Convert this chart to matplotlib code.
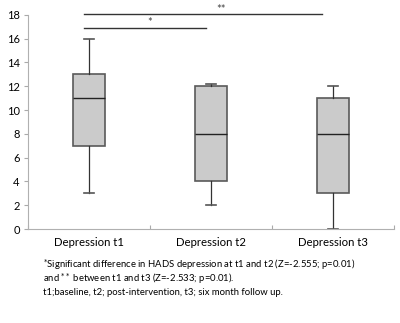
import matplotlib
matplotlib.use("Agg")
import matplotlib.pyplot as plt

plt.rcParams['font.family'] = ['Lato', 'DejaVu Sans']

categories = ["Depression t1", "Depression t2", "Depression t3"]
whisker_low = [3, 2, 0]
q1 = [7, 4, 3]
median = [11, 8, 8]
q3 = [13, 12, 11]
whisker_high = [16, 12.2, 12]

sig_pairs = [(0, 2, 18.1, "**"), (0, 1, 16.9, "*")]
caption_lines = [
    "$^{*}$Significant difference in HADS depression at t1 and t2 (Z=-2.555; p=0.01)",
    "and $^{**}$ between t1 and t3 (Z=-2.533; p=0.01).",
    "t1;baseline, t2; post-intervention, t3; six month follow up.",
]

fig = plt.figure(figsize=(4.0, 3.23), dpi=100)
ax = fig.add_axes([0.07, 0.291, 0.915, 0.663])

stats = []
for i, lab in enumerate(categories):
    stats.append(dict(label=lab, whislo=whisker_low[i], q1=q1[i], med=median[i],
                      q3=q3[i], whishi=whisker_high[i], fliers=[]))
pos = [0.5, 1.5, 2.5]
ax.bxp(stats, positions=pos, widths=0.27, patch_artist=True, showfliers=False,
       boxprops=dict(facecolor="#cbcbcb", edgecolor="#5a5a5a", linewidth=1.2),
       medianprops=dict(color="#222222", linewidth=1.0),
       whiskerprops=dict(color="#333333", linewidth=0.9),
       capprops=dict(color="#555555", linewidth=1.2), capwidths=0.09)

# significance brackets
for a, b, y, s in sig_pairs:
    xa, xb = pos[a] - 0.04, pos[b] - 0.04
    ax.plot([xa, xb + (0.0 if b == 1 else -0.05)], [y, y], color="#333333", lw=1.0,
            clip_on=False)
ax.text(1.0, 17.35, "*", ha="center", va="center", fontsize=8, color="#444444")
ax.text(1.58, 18.45, "**", ha="center", va="center", fontsize=8, color="#444444")

ax.set_xlim(0, 3)
ax.set_ylim(0, 18)
ax.set_yticks(range(0, 19, 2))
ax.set_xticks([0, 1, 2, 3])
ax.set_xticklabels([])
ax.set_xticks(pos, minor=True)
ax.set_xticklabels(categories, minor=True)
ax.tick_params(axis="x", which="minor", length=0, labelsize=8.2, pad=6)
ax.tick_params(axis="x", which="major", length=3, color="#aaaaaa", direction="in")
ax.tick_params(axis="y", length=3, color="#aaaaaa", labelsize=8, pad=3)
for s in ["top", "right"]:
    ax.spines[s].set_visible(False)
for s in ["left", "bottom"]:
    ax.spines[s].set_color("#b0b0b0")

for k, line in enumerate(caption_lines):
    fig.text(0.107, 0.182 - 0.0435 * k, line, fontsize=6.8, va="center", ha="left")

fig.savefig("out.png", dpi=100)
